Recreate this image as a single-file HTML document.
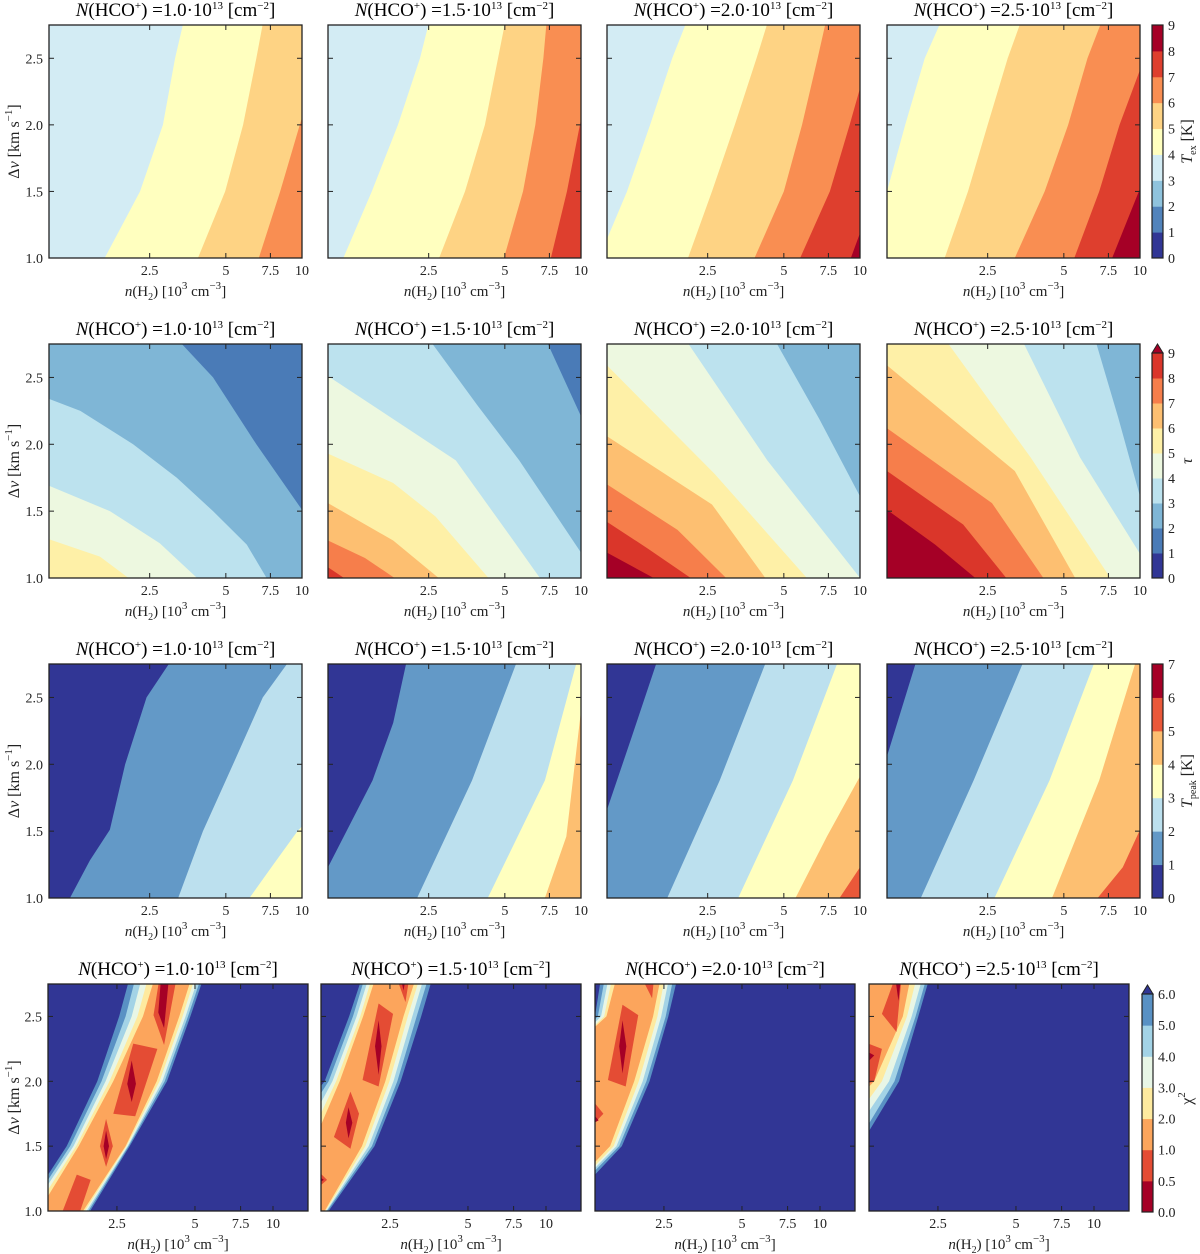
<!DOCTYPE html>
<html><head><meta charset="utf-8"><title>HCO+ grid</title>
<style>
html,body{margin:0;padding:0;background:#fff;}
svg{display:block;font-family:"Liberation Serif","DejaVu Serif",serif;}
</style></head>
<body>
<svg id="fig" width="1200" height="1254" viewBox="0 0 1200 1254" xmlns="http://www.w3.org/2000/svg"></svg>
<script>
// ---------- data ----------
const columnDensity = ['1.0','1.5','2.0','2.5'];
const xTicks = [2.5, 5, 7.5, 10];
const xTickLabels = ['2.5','5','7.5','10'];
const yTicks = [1.0, 1.5, 2.0, 2.5];
const yTickLabels = ['1.0','1.5','2.0','2.5'];

const texColors = ['#313695','#5183bb','#8fc3dd','#d3ecf4','#ffffbf','#fed384','#f98e52','#de3f2e','#a50026'];
const tauColors = ['#313695','#4a7bb7','#7fb6d6','#bce2ee','#edf8e0','#fef0a7','#fdbf71','#f67e4b','#da362a','#a50026'];
const tpkColors = ['#313695','#6399c7','#bce0ee','#ffffbf','#fdbf71','#ea5839','#a50026'];
const chiColors = ['#a50026','#e44c34','#fca55c','#feea9f','#e8f6e6','#a3d3e6','#5991c4','#313695'];

const texTicks = ['0','1','2','3','4','5','6','7','8','9'];
const tauTicks = ['0','1','2','3','4','5','6','7','8','9'];
const tpkTicks = ['0','1','2','3','4','5','6','7'];
const chiTicks = ['0.0','0.5','1.0','2.0','3.0','4.0','5.0','6.0'];

const texStart = [3,3,3,3];
const texBounds = [
 [[[1.66,1],[2.29,1.5],[2.82,2],[3.15,2.5],[3.39,2.76]],
  [[3.88,1],[4.97,1.5],[5.85,2],[6.6,2.5],[7.0,2.76]],
  [[6.75,1],[8.2,1.5],[9.8,2],[11.8,2.5],[13,2.76]]],
 [[[1.15,1],[1.49,1.5],[1.89,2],[2.31,2.5],[2.5,2.76]],
  [[2.75,1],[3.48,1.5],[4.17,2],[4.7,2.5],[5.0,2.76]],
  [[4.96,1],[5.9,1.5],[6.6,2],[7.1,2.5],[7.3,2.76]],
  [[7.6,1],[8.8,1.5],[9.9,2],[11.2,2.5],[12,2.76]]],
 [[[0.93,1],[1.2,1.5],[1.48,2],[1.81,2.5],[2.05,2.76]],
  [[2.09,1],[2.6,1.5],[3.2,2],[3.9,2.5],[4.3,2.76]],
  [[3.83,1],[5.0,1.5],[5.9,2],[6.8,2.5],[7.3,2.76]],
  [[5.8,1],[7.6,1.5],[9.1,2],[10.8,2.5],[11.8,2.76]],
  [[9.2,1],[11.5,1.5],[13.5,2],[15.5,2.5],[16.5,2.76]]],
 [[[0.8,1],[1.0,1.5],[1.18,2],[1.41,2.5],[1.62,2.76]],
  [[1.69,1],[2.09,1.5],[2.5,2],[3.0,2.5],[3.36,2.76]],
  [[3.2,1],[4.2,1.5],[5.2,2],[6.2,2.5],[7.0,2.76]],
  [[5.5,1],[6.9,1.5],[8.3,2],[10.4,2.5],[11.5,2.76]],
  [[7.76,1],[9.9,1.5],[12,2],[14,2.5],[15,2.76]]]
];
const tauStart = [6,8,9,9];
const tauBounds = [
 [[[1.06,0.95],[0.95,1.07]],
  [[2.13,0.98],[1.59,1.16],[1.0,1.29],[0.8,1.35]],
  [[3.95,0.98],[2.74,1.26],[1.74,1.5],[1.0,1.69],[0.8,1.74]],
  [[7.35,0.98],[6.05,1.25],[4.45,1.5],[3.2,1.75],[2.15,2.0],[1.33,2.25],[1.0,2.34],[0.8,2.4]],
  [[11,1.4],[10,1.51],[6.6,2.0],[4.45,2.5],[3.35,2.75],[3.0,2.85]]],
 [[[1.2,0.98],[1.0,1.08],[0.9,1.12]],
  [[1.9,0.98],[1.4,1.15],[1.0,1.28],[0.9,1.32]],
  [[2.82,0.98],[1.81,1.28],[1.0,1.56],[0.9,1.6]],
  [[4.4,0.98],[2.66,1.46],[1.81,1.71],[1.0,1.93],[0.9,1.98]],
  [[7.0,0.98],[5.4,1.28],[3.2,1.88],[1.0,2.51],[0.9,2.56]],
  [[11,1.12],[10,1.19],[5.7,1.88],[3.9,2.29],[2.59,2.75],[2.5,2.8]],
  [[11,2.1],[10,2.21],[7.4,2.75],[7,2.85]]],
 [[[1.6,0.98],[1.0,1.19],[0.9,1.23]],
  [[2.22,0.98],[1.45,1.22],[1.0,1.42],[0.9,1.46]],
  [[3.03,0.98],[1.9,1.36],[1.0,1.70],[0.9,1.74]],
  [[4.3,0.98],[2.6,1.55],[1.0,2.06],[0.9,2.1]],
  [[6.3,0.98],[2.66,1.78],[1.0,2.59],[0.9,2.64]],
  [[10.5,0.95],[4.3,1.88],[2.1,2.75],[2.0,2.8]],
  [[11,1.45],[10,1.61],[6.9,2.19],[4.7,2.75],[4.5,2.8]]],
 [[[2.3,0.98],[1.55,1.25],[1.0,1.51],[0.9,1.56]],
  [[3.02,0.98],[2.0,1.4],[1.0,1.80],[0.9,1.85]],
  [[4.22,0.98],[2.6,1.56],[1.0,2.12],[0.9,2.17]],
  [[5.62,0.98],[3.2,1.8],[1.0,2.59],[0.9,2.64]],
  [[7.76,0.98],[3.7,1.9],[1.75,2.75],[1.7,2.8]],
  [[11,1.1],[10,1.18],[5.8,1.9],[3.48,2.75],[3.3,2.8]],
  [[11,1.5],[10,1.61],[8.2,2.2],[6.73,2.75],[6.5,2.8]]]
];
const tpkStart = [0,0,0,0];
const tpkBounds = [
 [[[1.21,1],[1.45,1.28],[1.74,1.51],[2.0,2.0],[2.43,2.5],[3.0,2.76]],
  [[3.24,1],[4.06,1.5],[5.34,2],[7.0,2.5],[8.8,2.76]],
  [[6.2,1],[7.7,1.25],[9.6,1.5],[11,1.62],[13,1.8]]],
 [[[0.9,0.9],[1.0,1.23],[1.5,1.88],[1.81,2.31],[2.04,2.76]],
  [[2.25,1],[3.71,1.88],[5.56,2.76]],
  [[4.28,1],[7.2,1.88],[9.6,2.76]],
  [[7.2,1],[8.75,1.46],[10,2.4],[11,2.7]]],
 [[[0.9,0.9],[0.95,1.55],[1.0,1.66],[1.25,2.2],[1.57,2.76]],
  [[1.73,1],[2.79,1.88],[4.24,2.76]],
  [[3.3,1],[5.43,1.88],[8.15,2.76]],
  [[5.56,1],[7.4,1.46],[10,1.91],[12,2.2]],
  [[8.3,1],[10,1.23],[12,1.45]]],
 [[[0.9,0.9],[0.9,1.9],[1.0,2.06],[1.3,2.76]],
  [[1.36,1],[2.2,1.88],[3.45,2.76]],
  [[2.66,1],[4.39,1.88],[6.6,2.76]],
  [[4.49,1],[6.9,1.88],[9.6,2.76]],
  [[6.8,1],[8.55,1.23],[10,1.51],[12,1.8]]]
];
const chiDv = [0.9,1.0,1.5,2.0,2.5,2.8];
const chiLevelColor = [6,5,4,3,2];
const chiLeft = [
 [[1.0,1.1,1.6,2.1,2.55,2.8],[1.0,1.13,1.65,2.18,2.7,2.95],[1.0,1.16,1.7,2.26,2.85,3.12],[1.0,1.2,1.74,2.34,3.0,3.3],[1.0,1.25,1.78,2.42,3.15,3.5]],
 [[0.8,0.8,0.9,1.4,1.74,1.95],[0.8,0.8,1.0,1.45,1.8,2.0],[0.8,0.8,1.1,1.5,1.86,2.07],[0.8,0.8,1.18,1.55,1.92,2.13],[0.8,0.8,1.25,1.6,1.97,2.2]],
 [[0.8,0.8,0.8,0.8,1.355,1.43],[0.8,0.8,0.8,0.8,1.39,1.48],[0.8,0.8,0.8,0.8,1.43,1.53],[0.8,0.8,0.8,0.8,1.47,1.58],[0.8,0.8,0.8,0.8,1.5,1.64]],
 [[0.8,0.8,0.8,0.8,0.8,0.8],[0.8,0.8,0.8,0.8,0.8,0.8],[0.8,0.8,0.8,0.8,0.8,0.8],[0.8,0.8,0.8,0.8,0.8,0.8],[0.8,0.8,0.8,0.8,0.8,0.8]]
];
const chiRight = [
 [[1.95,1.97,2.8,3.9,4.8,5.4],[1.92,1.94,2.77,3.82,4.7,5.28],[1.9,1.91,2.75,3.74,4.6,5.15],[1.87,1.88,2.72,3.65,4.48,5.0],[1.84,1.85,2.7,3.56,4.35,4.85]],
 [[1.35,1.45,2.18,2.75,3.3,3.65],[1.33,1.43,2.13,2.67,3.17,3.52],[1.32,1.42,2.07,2.58,3.05,3.38],[1.31,1.41,2.01,2.49,2.93,3.26],[1.3,1.4,1.95,2.4,2.82,3.15]],
 [[0.8,1.0,1.72,2.2,2.6,2.82],[0.8,0.95,1.68,2.14,2.54,2.72],[0.8,0.93,1.64,2.07,2.44,2.62],[0.8,0.92,1.6,2.0,2.36,2.52],[0.8,0.9,1.55,1.92,2.27,2.43]],
 [[0.8,0.8,1.25,1.77,2.1,2.32],[0.8,0.8,1.2,1.7,2.05,2.26],[0.8,0.8,1.1,1.62,1.98,2.18],[0.8,0.8,1.0,1.52,1.9,2.07],[0.8,0.8,0.8,1.42,1.83,1.96]]
];
const chiIslandLevel = [
 [1,1,0,1,0,1,0],
 [1,0,1,0,1,0,1,0],
 [1,0,1,0,1],
 [1,0,1,0]
];
const chiIslands = [
 [[[1.53,0.98],[1.75,1.28],[1.98,1.24],[1.79,0.98]],
  [[2.15,1.5],[2.27,1.71],[2.41,1.5],[2.27,1.34]],
  [[2.22,1.5],[2.27,1.62],[2.33,1.5],[2.27,1.4]],
  [[2.42,1.75],[2.89,2.29],[3.58,2.25],[2.94,1.73]],
  [[2.85,2.16],[2.96,1.98],[2.85,1.84],[2.74,1.98]],
  [[3.46,2.51],[3.65,2.8],[4.25,2.8],[3.8,2.28]],
  [[3.61,2.53],[3.7,2.8],[3.97,2.8],[3.8,2.41]]],
 [[[1.2,1.39],[1.43,1.24],[1.2,1.11]],
  [[1.2,1.33],[1.39,1.24],[1.2,1.16]],
  [[1.52,1.57],[1.76,1.92],[1.9,1.75],[1.76,1.48]],
  [[1.73,1.8],[1.79,1.68],[1.73,1.56],[1.69,1.68]],
  [[2.26,2.6],[2.57,2.52],[2.26,1.96],[1.96,2.01]],
  [[2.26,2.47],[2.32,2.27],[2.26,2.05],[2.19,2.27]],
  [[2.65,2.8],[2.97,2.8],[2.87,2.61]],
  [[2.75,2.8],[2.88,2.8],[2.82,2.7]]],
 [[[1.2,1.96],[1.46,1.75],[1.2,1.57]],
  [[1.2,1.85],[1.4,1.7],[1.2,1.62]],
  [[1.52,2.01],[1.73,2.59],[1.99,2.51],[1.78,1.96]],
  [[1.73,2.47],[1.79,2.27],[1.73,2.06],[1.68,2.27]],
  [[2.05,2.8],[2.29,2.8],[2.25,2.64]]],
 [[[1.52,2.52],[1.71,2.8],[1.81,2.8],[1.73,2.38]],
  [[1.71,2.8],[1.8,2.8],[1.76,2.62]],
  [[1.2,2.33],[1.52,2.25],[1.42,2.0],[1.2,1.95]],
  [[1.2,2.28],[1.42,2.2],[1.2,2.05]]]
];

// ---------- layout ----------
const NS = 'http://www.w3.org/2000/svg';
const svg = document.getElementById('fig');
const ROWTOP = [25,344,664,984], ROWBOT = [258,578,898,1211];
const LEFTS = [[49,328,607,887],[49,328,607,887],[49,328,607,887],[48,321,595,869]];
const WIDTHS = [253,253,253,260];
const XLOG = [[0,1],[0,1],[0,1],[0.132,1.135]];
const DVMIN = 1.0, DVMAX = 2.75;
const NFAR = 100, DVFAR = 6;

function mk(tag, attrs, parent){
  const e = document.createElementNS(NS, tag);
  for (const k in attrs) e.setAttribute(k, attrs[k]);
  (parent||svg).appendChild(e);
  return e;
}
function xs(r, c, n){ const [a,b]=XLOG[r]; return LEFTS[r][c] + WIDTHS[r]*(Math.log10(n)-a)/(b-a); }
function ys(r, dv){ return ROWBOT[r] - (ROWBOT[r]-ROWTOP[r])*(dv-DVMIN)/(DVMAX-DVMIN); }
function polyStr(r,c,arr){ return arr.map(p=>xs(r,c,p[0]).toFixed(2)+','+ys(r,p[1]).toFixed(2)).join(' '); }

const defs = mk('defs',{});
const sup = (s)=>'<tspan dy="-7" font-size="11">'+s+'</tspan>';

function title(r,c){
  const cx = LEFTS[r][c] + WIDTHS[r]/2;
  const t = mk('text',{x:cx, y:ROWTOP[r]-9, 'text-anchor':'middle','font-size':'19'});
  
  
  t.innerHTML = '<tspan font-style="italic">N</tspan>(HCO'+sup('+')+'<tspan dy="7">) =</tspan>'+columnDensity[c]+'·10'+sup('13')+'<tspan dy="7"> [cm</tspan>'+sup('−2')+'<tspan dy="7">]</tspan>';
}

function panel(r,c, fillFn){
  const L = LEFTS[r][c], W = WIDTHS[r], T = ROWTOP[r], B = ROWBOT[r];
  const id = 'clip'+r+'_'+c;
  const cp = mk('clipPath',{id:id}, defs);
  mk('rect',{x:L,y:T,width:W,height:B-T}, cp);
  const g = mk('g',{'clip-path':'url(#'+id+')'});
  
  
  fillFn(g, L, W, T, B);
  const fr = mk('rect',{x:L,y:T,width:W,height:B-T,fill:'none',stroke:'#222','stroke-width':'1.3'});
  
  
  xTicks.forEach((v,i)=>{
    const x = xs(r,c,v);
    const tb = mk('line',{x1:x,x2:x,y1:B,y2:B-5,stroke:'#222','stroke-width':'1'});
    
    
    const tt = mk('line',{x1:x,x2:x,y1:T,y2:T+5,stroke:'#222','stroke-width':'1'});
    
    
    const lb = mk('text',{x:x,y:B+17,'text-anchor':'middle','font-size':'14',fill:'#222'});
    
    
    lb.textContent = xTickLabels[i];
  });
  yTicks.forEach((v,i)=>{
    const y = ys(r,v);
    const tl = mk('line',{x1:L,x2:L+5,y1:y,y2:y,stroke:'#222','stroke-width':'1'});
    
    
    const tr = mk('line',{x1:L+W,x2:L+W-5,y1:y,y2:y,stroke:'#222','stroke-width':'1'});
    
    
    if (c===0){
      const lb = mk('text',{x:L-6,y:y+5,'text-anchor':'end','font-size':'14',fill:'#222'});
      
      
      lb.textContent = yTickLabels[i];
    }
  });
  const xl = mk('text',{x:L+W/2,y:B+38,'text-anchor':'middle','font-size':'15',fill:'#222'});
  
  
  xl.innerHTML = '<tspan font-style="italic">n</tspan>(H<tspan dy="4" font-size="10">2</tspan><tspan dy="-4">) [10</tspan>'+sup('3')+'<tspan dy="7"> cm</tspan>'+sup('−3')+'<tspan dy="7">]</tspan>';
  if (c===0){
    const cy = (T+B)/2;
    const yl = mk('text',{x:0,y:0,'text-anchor':'middle','font-size':'16',fill:'#222',transform:'translate(19,'+cy+') rotate(-90)'});
    
    
    yl.innerHTML = 'Δ<tspan font-style="italic">v</tspan> [km s'+sup('−1')+'<tspan dy="7">]</tspan>';
  }
  title(r,c);
}

function bandFill(r,c,colors,start,bounds,step){
  return function(g,L,W,T,B){
    const bg = mk('rect',{x:L-2,y:T-2,width:W+4,height:B-T+4,fill:colors[start]},g);
    
    
    bounds.forEach((bd,k)=>{
      const A = bd[0], Bp = bd[bd.length-1];
      const poly = bd.concat([[Bp[0],DVFAR],[NFAR,DVFAR],[NFAR,A[1]]]);
      const p = mk('polygon',{points:polyStr(r,c,poly),fill:colors[start+step*(k+1)]},g);
      
      
    });
  };
}

function chiFill(c){
  const r = 3;
  return function(g,L,W,T,B){
    const bg = mk('rect',{x:L-2,y:T-2,width:W+4,height:B-T+4,fill:chiColors[7]},g);
    
    
    chiLevelColor.forEach((lv,k)=>{
      const left = chiDv.map((d,i)=>[chiLeft[c][k][i], d]);
      const right = chiDv.map((d,i)=>[chiRight[c][k][i], d]).reverse();
      const p = mk('polygon',{points:polyStr(r,c,left.concat(right)),fill:chiColors[lv]},g);
      
      
    });
    chiIslands[c].forEach((isl,k)=>{
      const p = mk('polygon',{points:polyStr(r,c,isl),fill:chiColors[chiIslandLevel[c][k]]},g);
      
      
    });
  };
}

for (let c=0;c<4;c++){
  panel(0,c,bandFill(0,c,texColors,texStart[c],texBounds[c],1));
  panel(1,c,bandFill(1,c,tauColors,tauStart[c],tauBounds[c],-1));
  panel(2,c,bandFill(2,c,tpkColors,tpkStart[c],tpkBounds[c],1));
  panel(3,c,chiFill(c));
}

function colorbar(x,w,top,bot,colors,ticks,extendTop,labelHTML,labelX,name){
  const g = mk('g',{});
  
  
  const nb = ticks.length-1;
  let rtop = top;
  if (extendTop){
    rtop = top+9;
    const tri = mk('polygon',{points:x+','+rtop+' '+(x+w/2)+','+top+' '+(x+w)+','+rtop,fill:colors[colors.length-1],stroke:'#222','stroke-width':'1'},g);
    
    
  }
  const h = (bot-rtop)/nb;
  for (let i=0;i<nb;i++){
    const seg = mk('rect',{x:x,y:bot-(i+1)*h,width:w,height:h+0.5,fill:colors[i]},g);
    
    
  }
  const fr = mk('rect',{x:x,y:rtop,width:w,height:bot-rtop,fill:'none',stroke:'#222','stroke-width':'1.2'},g);
  
  
  ticks.forEach((t,i)=>{
    const y = bot-i*h;
    const tl = mk('text',{x:x+w+5,y:y+5,'font-size':'14',fill:'#222'},g);
    
    
    tl.textContent = t;
  });
  const cy = (top+bot)/2;
  const lab = mk('text',{x:0,y:0,'text-anchor':'middle','font-size':'16',fill:'#222',transform:'translate('+labelX+','+cy+') rotate(-90)'},g);
  
  
  lab.innerHTML = labelHTML;
}
colorbar(1152,11,25,258,texColors,texTicks,false,'<tspan font-style="italic">T</tspan><tspan dy="4" font-size="10">ex</tspan><tspan dy="-4"> [K]</tspan>',1192,'colorbar-tex');
colorbar(1152,11,344,578,tauColors,tauTicks,true,'<tspan font-style="italic">τ</tspan>',1192,'colorbar-tau');
colorbar(1152,11,664,898,tpkColors,tpkTicks,false,'<tspan font-style="italic">T</tspan><tspan dy="4" font-size="10">peak</tspan><tspan dy="-4"> [K]</tspan>',1192,'colorbar-tpeak');
colorbar(1142,11,985,1212,chiColors,chiTicks,true,'χ<tspan dy="-7" font-size="11">2</tspan>',1192,'colorbar-chi2');
</script>
</body></html>
